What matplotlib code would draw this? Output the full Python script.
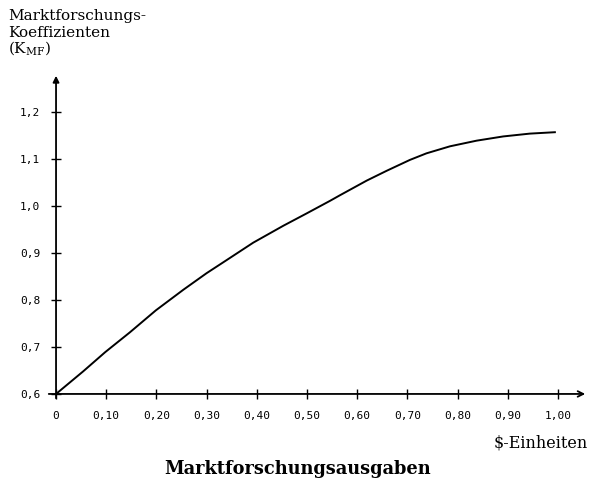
import matplotlib
matplotlib.use("Agg")
import matplotlib.pyplot as plt

# values
ausgaben = [0, 0.054, 0.098, 0.147, 0.199, 0.254, 0.300, 0.333, 0.393, 0.453,
            0.499, 0.546, 0.566, 0.619, 0.659, 0.705, 0.738, 0.785, 0.838,
            0.891, 0.944, 0.994]
koeffizient = [0.600, 0.648, 0.689, 0.731, 0.778, 0.822, 0.857, 0.880, 0.922,
               0.958, 0.984, 1.011, 1.023, 1.054, 1.075, 1.098, 1.112, 1.127,
               1.139, 1.148, 1.154, 1.157]

x_ticks = [0, 0.1, 0.2, 0.3, 0.4, 0.5, 0.6, 0.7, 0.8, 0.9, 1.0]
x_labels = ["0", "0,10", "0,20", "0,30", "0,40", "0,50", "0,60", "0,70",
            "0,80", "0,90", "1,00"]
y_ticks = [0.6, 0.7, 0.8, 0.9, 1.0, 1.1, 1.2]
y_labels = ["0,6", "0,7", "0,8", "0,9", "1,0", "1,1", "1,2"]

plt.rcParams["mathtext.default"] = "regular"

W, H = 592, 478
fig = plt.figure(figsize=(W / 100, H / 100), dpi=100)
ax = fig.add_axes([46 / W, 77 / H, 542 / W, 328 / H])
ax.set_xlim(-0.02, 1.06)
ax.set_ylim(0.585, 1.283)

ax.plot(ausgaben, koeffizient, color="black", lw=1.4)

# axes drawn as arrows through the origin
for s in ax.spines.values():
    s.set_visible(False)
ax.spines["left"].set_position(("data", 0))
ax.spines["bottom"].set_position(("data", 0.6))
ax.annotate("", xy=(1.06, 0.6), xytext=(-0.02, 0.6),
            arrowprops=dict(arrowstyle="->", lw=1.3, color="black"),
            annotation_clip=False)
ax.annotate("", xy=(0, 1.283), xytext=(0, 0.585),
            arrowprops=dict(arrowstyle="-|>", lw=1.3, color="black",
                            mutation_scale=9),
            annotation_clip=False)

ax.set_xticks(x_ticks, labels=x_labels)
ax.set_yticks(y_ticks, labels=y_labels)
ax.tick_params(direction="inout", length=7, width=1, color="black")
ax.tick_params(axis="x", pad=9)
ax.tick_params(axis="y", pad=8)
for lab in ax.get_xticklabels() + ax.get_yticklabels():
    lab.set_fontfamily("DejaVu Sans Mono")
    lab.set_fontsize(8)

# axis titles
fig.text(8 / W, 1 - 20 / H, "Marktforschungs-", family="DejaVu Serif",
         fontsize=11, va="baseline")
fig.text(8 / W, 1 - 37 / H, "Koeffizienten", family="DejaVu Serif",
         fontsize=11, va="baseline")
fig.text(8 / W, 1 - 53 / H, "(K$_{MF}$)", family="DejaVu Serif",
         fontsize=11, va="baseline")
fig.text(588 / W, 1 - 447 / H, r"\$-Einheiten", family="DejaVu Serif",
         fontsize=11.5, ha="right", va="baseline")
fig.text(298 / W, 1 - 474 / H, "Marktforschungsausgaben",
         family="DejaVu Serif", fontweight="bold", fontsize=12.8,
         ha="center", va="baseline")

fig.savefig("out.png", dpi=100)
